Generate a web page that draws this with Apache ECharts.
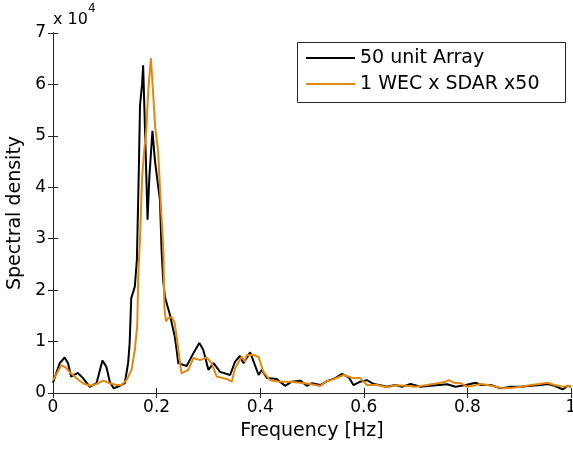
<!DOCTYPE html>
<html>
<head>
<meta charset="utf-8">
<script src="https://cdn.jsdelivr.net/npm/echarts@6/dist/echarts.min.js"></script>
<style>
  html, body { margin: 0; padding: 0; background: #ffffff; }
  #chart { width: 573px; height: 452px; }
</style>
</head>
<body>
<div id="chart"></div>
<script>
// Spectral density values are stored in units of 10^4.
const seriesNames = ['50 unit Array', '1 WEC x SDAR x50'];

const arrayFreq = [
  0, 0.013, 0.0225, 0.029, 0.035, 0.048, 0.058, 0.071, 0.084, 0.0954,
  0.103, 0.1096, 0.117, 0.129, 0.1386, 0.145, 0.148, 0.151, 0.158, 0.162,
  0.166, 0.168, 0.172, 0.174, 0.178, 0.1825, 0.186, 0.192, 0.197, 0.2065,
  0.2096, 0.2127, 0.216, 0.2257, 0.235, 0.2387, 0.2418, 0.258, 0.2708, 0.2825,
  0.29, 0.3, 0.31, 0.3225, 0.342, 0.3515, 0.361, 0.3676, 0.3806, 0.397,
  0.403, 0.413, 0.432, 0.448, 0.461, 0.4775, 0.49, 0.5, 0.516, 0.529,
  0.545, 0.558, 0.571, 0.58, 0.593, 0.606, 0.619, 0.632, 0.645, 0.661,
  0.674, 0.69, 0.71, 0.729, 0.745, 0.761, 0.777, 0.797, 0.816, 0.826,
  0.845, 0.864, 0.884, 0.903, 0.923, 0.942, 0.955, 0.968, 0.984, 0.994, 1.0
];
const arrayDensity = [
  0.20, 0.58, 0.69, 0.58, 0.32, 0.39, 0.29, 0.12, 0.19, 0.63,
  0.51, 0.22, 0.09, 0.14, 0.19, 0.58, 0.97, 1.84, 2.07, 2.6,
  4.5, 5.6, 6.0, 6.37, 5.0, 3.37, 4.2, 5.1, 4.5, 3.75,
  2.78, 2.2, 1.87, 1.52, 1.1, 0.84, 0.58, 0.525, 0.77, 0.97,
  0.84, 0.45, 0.58, 0.41, 0.35, 0.61, 0.72, 0.58, 0.79, 0.35,
  0.45, 0.29, 0.27, 0.14, 0.22, 0.24, 0.14, 0.19, 0.155, 0.23,
  0.29, 0.37, 0.305, 0.155, 0.22, 0.25, 0.175, 0.15, 0.12, 0.155,
  0.12, 0.175, 0.12, 0.14, 0.155, 0.17, 0.12, 0.155, 0.2, 0.155,
  0.155, 0.09, 0.12, 0.12, 0.14, 0.155, 0.175, 0.14, 0.07, 0.14, 0.12
];

const wecFreq = [
  0, 0.016, 0.024, 0.032, 0.045, 0.058, 0.071, 0.084, 0.0966, 0.1096,
  0.1225, 0.132, 0.142, 0.1516, 0.158, 0.1625, 0.165, 0.168, 0.172, 0.176,
  0.18, 0.184, 0.189, 0.1935, 0.197, 0.203, 0.208, 0.213, 0.215, 0.218,
  0.222, 0.229, 0.235, 0.242, 0.248, 0.261, 0.271, 0.284, 0.297, 0.306,
  0.316, 0.3355, 0.345, 0.3515, 0.3645, 0.37, 0.374, 0.387, 0.397, 0.406,
  0.419, 0.438, 0.458, 0.4775, 0.4967, 0.516, 0.526, 0.542, 0.561, 0.58,
  0.593, 0.606, 0.626, 0.645, 0.661, 0.681, 0.7, 0.7226, 0.742, 0.758,
  0.764, 0.774, 0.787, 0.8, 0.81, 0.826, 0.839, 0.855, 0.868, 0.887,
  0.903, 0.923, 0.939, 0.955, 0.968, 0.984, 1.0
];
const wecDensity = [
  0.25, 0.54, 0.50, 0.41, 0.29, 0.19, 0.14, 0.175, 0.24, 0.19,
  0.155, 0.155, 0.25, 0.45, 0.84, 1.3, 2.4, 3.0, 4.2, 4.7,
  5.1, 5.9, 6.51, 5.8, 5.2, 4.69, 3.7, 2.78, 1.68, 1.39,
  1.45, 1.48, 1.36, 0.84, 0.38, 0.45, 0.68, 0.64, 0.69, 0.58,
  0.32, 0.27, 0.22, 0.48, 0.71, 0.61, 0.74, 0.74, 0.70, 0.41,
  0.25, 0.22, 0.22, 0.2, 0.175, 0.135, 0.22, 0.27, 0.35, 0.29,
  0.29, 0.155, 0.155, 0.11, 0.15, 0.14, 0.12, 0.155, 0.19, 0.22,
  0.25, 0.2, 0.19, 0.12, 0.14, 0.175, 0.155, 0.12, 0.09, 0.1,
  0.12, 0.155, 0.175, 0.2, 0.155, 0.12, 0.14
];

const xRange = [0, 1, 0.2];
const yRange = [0, 7, 1];
const yExponentLabel = ['x 10', '4'];

const FONT = '"DejaVu Sans", "Liberation Sans", Arial, sans-serif';
const AXIS_COLOR = '#262626';
const LINE_COLORS = ['#000000', '#E3870E'];

function pairs(xs, ys) {
  return xs.map((x, i) => [x, ys[i]]);
}

function xLabel(v) {
  return String(+v.toFixed(1));
}

const frameAxis = {
  axisLine: { show: true, lineStyle: { color: AXIS_COLOR, width: 1 } },
  axisTick: { show: true, inside: true, length: 5, lineStyle: { color: AXIS_COLOR, width: 1 } },
  splitLine: { show: false },
  minorTick: { show: false }
};

const chart = echarts.init(document.getElementById('chart'), null, { renderer: 'canvas' });

chart.setOption({
  animation: false,
  backgroundColor: '#ffffff',
  color: LINE_COLORS,
  grid: { left: 53, right: 2, top: 33, bottom: 59, containLabel: false, outerBoundsMode: 'none' },
  xAxis: [
    Object.assign({
      type: 'value', position: 'bottom',
      min: xRange[0], max: xRange[1], interval: xRange[2],
      name: 'Frequency [Hz]', nameLocation: 'middle', nameGap: 29,
      nameTextStyle: { fontFamily: FONT, fontSize: 19, color: '#000' },
      axisLabel: { show: true, margin: 6, fontFamily: FONT, fontSize: 17, color: '#000', formatter: xLabel }
    }, frameAxis),
    Object.assign({
      type: 'value', position: 'top',
      min: xRange[0], max: xRange[1], interval: xRange[2],
      axisLabel: { show: false }
    }, frameAxis)
  ],
  yAxis: [
    Object.assign({
      type: 'value', position: 'left',
      min: yRange[0], max: yRange[1], interval: yRange[2],
      name: 'Spectral density', nameLocation: 'middle', nameGap: 24,
      nameTextStyle: { fontFamily: FONT, fontSize: 19, color: '#000' },
      axisLabel: { show: true, margin: 7, fontFamily: FONT, fontSize: 17, color: '#000' }
    }, frameAxis),
    Object.assign({
      type: 'value', position: 'right',
      min: yRange[0], max: yRange[1], interval: yRange[2],
      axisLabel: { show: false }
    }, frameAxis)
  ],
  legend: {
    orient: 'vertical',
    left: 306, top: 48,
    itemWidth: 49, itemHeight: 2, itemGap: 6,
    icon: 'rect',
    padding: 0,
    textStyle: { fontFamily: FONT, fontSize: 19, color: '#000', lineHeight: 20 },
    data: seriesNames
  },
  graphic: [
    {
      type: 'rect', z: 3,
      shape: { x: 297.5, y: 42.5, width: 268, height: 60 },
      style: { fill: '#ffffff', stroke: AXIS_COLOR, lineWidth: 1 }
    },
    {
      type: 'text', left: 53, top: 3,
      style: {
        text: '{b|' + yExponentLabel[0] + '}{s|' + yExponentLabel[1] + '}',
        rich: {
          b: { fontFamily: FONT, fontSize: 16, fill: '#000', verticalAlign: 'bottom', padding: [9, 0, 0, 0] },
          s: { fontFamily: FONT, fontSize: 12, fill: '#000', verticalAlign: 'top' }
        }
      }
    }
  ],
  series: [
    {
      name: seriesNames[0], type: 'line', xAxisIndex: 0, yAxisIndex: 0,
      data: pairs(arrayFreq, arrayDensity),
      showSymbol: false, symbol: 'none',
      lineStyle: { color: LINE_COLORS[0], width: 2 },
      itemStyle: { color: LINE_COLORS[0] },
      z: 2
    },
    {
      name: seriesNames[1], type: 'line', xAxisIndex: 0, yAxisIndex: 0,
      data: pairs(wecFreq, wecDensity),
      showSymbol: false, symbol: 'none',
      lineStyle: { color: LINE_COLORS[1], width: 2 },
      itemStyle: { color: LINE_COLORS[1] },
      z: 3
    }
  ]
});
</script>
</body>
</html>
